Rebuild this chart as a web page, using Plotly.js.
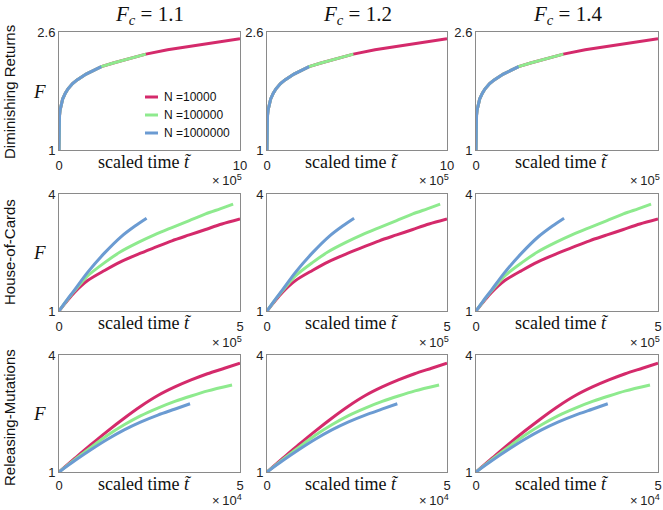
<!DOCTYPE html>
<html>
<head>
<meta charset="utf-8">
<script src="https://cdn.plot.ly/plotly-3.0.1.min.js"></script>
<style>html,body{margin:0;padding:0;background:#fff;}#chart{width:663px;height:510px;}</style>
</head>
<body>
<div id="chart"></div>
<script>
// ---------- data ----------
const columnTitles = ["1.1", "1.2", "1.4"];
const rowNames = ["Diminishing Returns", "House-of-Cards", "Releasing-Mutations"];
const seriesNames = ["N =10000", "N =100000", "N =1000000"];
const seriesColors = ["#d42a6b", "#8eea8e", "#6b9bd2"];

// Diminishing Returns (t in units of 1e5)
const dr_t_N1e4 = [0, 0.002, 0.01, 0.03, 0.06, 0.1, 0.2, 0.35, 0.5, 0.75, 1, 1.5, 2, 2.34, 3, 4, 4.8, 6, 7, 8, 9, 10];
const dr_F_N1e4 = [1, 1.27, 1.38, 1.47, 1.54, 1.60, 1.69, 1.77, 1.83, 1.90, 1.95, 2.03, 2.09, 2.13, 2.18, 2.25, 2.30, 2.36, 2.40, 2.44, 2.48, 2.51];
const dr_t_N1e5 = [0, 0.002, 0.01, 0.03, 0.06, 0.1, 0.2, 0.35, 0.5, 0.75, 1, 1.5, 2, 2.34, 3, 4, 4.8];
const dr_F_N1e5 = [1, 1.27, 1.38, 1.47, 1.54, 1.60, 1.69, 1.77, 1.83, 1.90, 1.95, 2.03, 2.09, 2.13, 2.18, 2.25, 2.30];
const dr_t_N1e6 = [0, 0.002, 0.01, 0.03, 0.06, 0.1, 0.2, 0.35, 0.5, 0.75, 1, 1.5, 2, 2.34];
const dr_F_N1e6 = [1, 1.27, 1.38, 1.47, 1.54, 1.60, 1.69, 1.77, 1.83, 1.90, 1.95, 2.03, 2.09, 2.13];

// House-of-Cards (t in units of 1e5)
const hc_t_N1e4 = [0, 0.2, 0.42, 0.79, 1.26, 1.7, 2.19, 2.65, 3.12, 3.6, 4.05, 4.5, 5];
const hc_F_N1e4 = [1, 1.23, 1.47, 1.78, 2.04, 2.26, 2.46, 2.63, 2.80, 2.95, 3.09, 3.23, 3.36];
const hc_t_N1e5 = [0, 0.2, 0.42, 0.79, 1.26, 1.7, 2.19, 2.65, 3.12, 3.6, 4.05, 4.45, 4.81];
const hc_F_N1e5 = [1, 1.25, 1.51, 1.90, 2.24, 2.52, 2.76, 2.96, 3.14, 3.32, 3.49, 3.62, 3.74];
const hc_t_N1e6 = [0, 0.2, 0.42, 0.79, 1.26, 1.72, 2.1, 2.42];
const hc_F_N1e6 = [1, 1.26, 1.53, 1.99, 2.49, 2.91, 3.18, 3.38];

// Releasing-Mutations (t in units of 1e4)
const rm_t_N1e4 = [0, 0.45, 0.88, 1.34, 1.8, 2.25, 2.73, 3.2, 3.65, 4.1, 4.57, 5];
const rm_F_N1e4 = [1, 1.36, 1.70, 2.05, 2.38, 2.68, 2.96, 3.18, 3.36, 3.52, 3.66, 3.79];
const rm_t_N1e5 = [0, 0.45, 0.88, 1.34, 1.8, 2.25, 2.73, 3.2, 3.65, 4.11, 4.78];
const rm_F_N1e5 = [1, 1.33, 1.63, 1.94, 2.21, 2.44, 2.64, 2.81, 2.95, 3.08, 3.23];
const rm_t_N1e6 = [0, 0.45, 0.88, 1.34, 1.8, 2.25, 2.73, 3.19, 3.62];
const rm_F_N1e6 = [1, 1.30, 1.57, 1.84, 2.08, 2.28, 2.46, 2.61, 2.75];

// axes
const xMax = [10, 5, 5];
const yMax = [2.6, 4, 4];
const yTickText = [["1", "2.6"], ["1", "4"], ["1", "4"]];
const xTickText = [["0", "10"], ["0", "5"], ["0", "5"]];
const xExponent = ["5", "5", "4"];

const rowSeries = [
  [[dr_t_N1e4, dr_F_N1e4], [dr_t_N1e5, dr_F_N1e5], [dr_t_N1e6, dr_F_N1e6]],
  [[hc_t_N1e4, hc_F_N1e4], [hc_t_N1e5, hc_F_N1e5], [hc_t_N1e6, hc_F_N1e6]],
  [[rm_t_N1e4, rm_F_N1e4], [rm_t_N1e5, rm_F_N1e5], [rm_t_N1e6, rm_F_N1e6]]
];

// ---------- layout geometry ----------
const W = 663, H = 510;
const colPx = [[59, 240], [267, 447], [476, 658]];
const rowPx = [[32, 150], [194, 311], [355, 472]];
const rowLabelCenter = [92, 252, 418];
const exponentY = [180, 342, 510];
const exponentAnchor = ["middle", "middle", "bottom"];
const xTickLen = [3, 3, 1];
const px2x = p => p / W;
const px2y = p => 1 - p / H;

const serif = "Liberation Serif, Times New Roman, serif";
const sans = "Liberation Sans, Arial, Helvetica, sans-serif";

const traces = [];
const layout = {
  width: W, height: H,
  margin: {l: 0, r: 0, t: 0, b: 0},
  paper_bgcolor: "#ffffff", plot_bgcolor: "#ffffff",
  showlegend: false,
  annotations: [], shapes: []
};

let k = 0;
for (let r = 0; r < 3; r++) {
  for (let c = 0; c < 3; c++) {
    k++;
    const xa = "xaxis" + (k === 1 ? "" : k), ya = "yaxis" + (k === 1 ? "" : k);
    const xr = "x" + (k === 1 ? "" : k), yr = "y" + (k === 1 ? "" : k);
    layout[xa] = {
      domain: [px2x(colPx[c][0]), px2x(colPx[c][1])],
      anchor: yr, range: [0, xMax[r]],
      showgrid: false, zeroline: false,
      showline: true, mirror: true, linecolor: "#8a8a8a", linewidth: 1,
      ticks: "outside", ticklen: xTickLen[r], tickcolor: "rgba(0,0,0,0)",
      tickvals: [0, xMax[r]], ticktext: xTickText[r],
      tickfont: {family: sans, size: 13, color: "#222"}, fixedrange: true
    };
    layout[ya] = {
      domain: [px2y(rowPx[r][1]), px2y(rowPx[r][0])],
      anchor: xr, range: [1, yMax[r]],
      showgrid: false, zeroline: false,
      showline: true, mirror: true, linecolor: "#8a8a8a", linewidth: 1,
      ticks: "", tickvals: [1, yMax[r]], ticktext: yTickText[r],
      tickfont: {family: sans, size: 13, color: "#222"}, fixedrange: true
    };
    for (let s = 0; s < 3; s++) {
      traces.push({
        type: "scatter", mode: "lines",
        x: rowSeries[r][s][0], y: rowSeries[r][s][1],
        xaxis: xr, yaxis: yr,
        name: seriesNames[s], legendgroup: seriesNames[s],
        showlegend: false,
        line: {color: seriesColors[s], width: 3, shape: r === 0 ? "linear" : "spline", smoothing: 0.8},
        hoverinfo: "skip"
      });
    }
    // x axis title
    layout.annotations.push({
      xref: "paper", yref: "paper",
      x: px2x((colPx[c][0] + colPx[c][1]) / 2 - 5), y: px2y(rowPx[r][1] + 12),
      xanchor: "center", yanchor: "middle", showarrow: false,
      text: "scaled time <i>t\u0303</i>",
      font: {family: serif, size: 18, color: "#111"}
    });
    // exponent
    layout.annotations.push({
      xref: "paper", yref: "paper",
      x: px2x(colPx[c][1] + 4), y: px2y(exponentY[r]),
      xanchor: "right", yanchor: exponentAnchor[r], showarrow: false,
      text: "\u00d7\u200910<sup>" + xExponent[r] + "</sup>",
      font: {family: sans, size: 13, color: "#222"}
    });
  }
  // row label
  layout.annotations.push({
    xref: "paper", yref: "paper",
    x: px2x(9), y: px2y(rowLabelCenter[r]),
    xanchor: "center", yanchor: "middle", showarrow: false, textangle: -90,
    text: rowNames[r], font: {family: sans, size: 15, color: "#111"}
  });
  // F label
  layout.annotations.push({
    xref: "paper", yref: "paper",
    x: px2x(39), y: px2y((rowPx[r][0] + rowPx[r][1]) / 2),
    xanchor: "center", yanchor: "middle", showarrow: false,
    text: "<i>F</i>", font: {family: serif, size: 19, color: "#111"}
  });
}
for (let c = 0; c < 3; c++) {
  layout.annotations.push({
    xref: "paper", yref: "paper",
    x: px2x((colPx[c][0] + colPx[c][1]) / 2), y: px2y(0),
    xanchor: "center", yanchor: "top", showarrow: false,
    text: "<i>F</i><sub><i>c</i></sub> = " + columnTitles[c],
    font: {family: serif, size: 21, color: "#111"}
  });
}

// legend (top-left panel): short line samples + labels
const legendY = [97, 115, 133];
for (let s = 0; s < 3; s++) {
  layout.shapes.push({
    type: "line", xref: "paper", yref: "paper",
    x0: px2x(145), x1: px2x(158), y0: px2y(legendY[s]), y1: px2y(legendY[s]),
    line: {color: seriesColors[s], width: 3}
  });
  layout.annotations.push({
    xref: "paper", yref: "paper",
    x: px2x(162), y: px2y(legendY[s]),
    xanchor: "left", yanchor: "middle", showarrow: false,
    text: seriesNames[s], font: {family: sans, size: 12, color: "#111"}
  });
}

Plotly.newPlot("chart", traces, layout, {staticPlot: true, displayModeBar: false});
</script>
</body>
</html>
